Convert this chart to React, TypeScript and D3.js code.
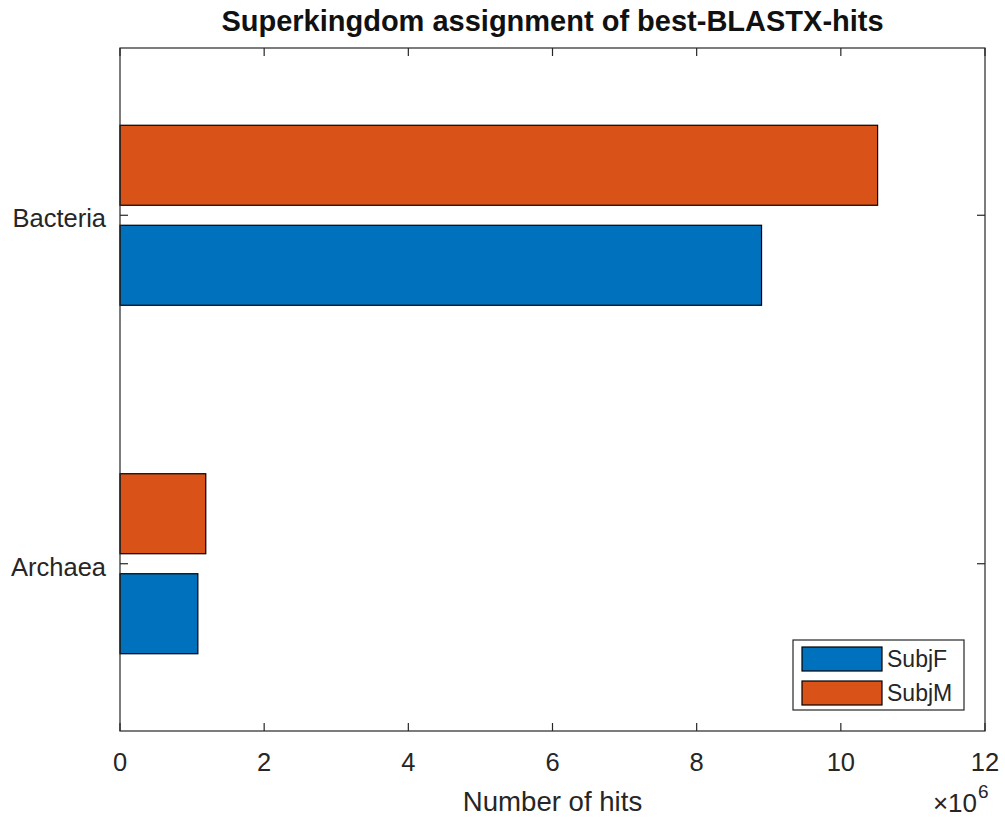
import React from 'react';
import * as d3 from 'd3';

const categories = ['Bacteria', 'Archaea'];
const seriesNames = ['SubjF', 'SubjM'];
const subjF = [8.9e6, 1.08e6];
const subjM = [10.51e6, 1.19e6];
const xTicks = [0, 2e6, 4e6, 6e6, 8e6, 10e6, 12e6];

const colors: Record<string, string> = { SubjF: '#0072BD', SubjM: '#D95319' };
const valuesBySeries: Record<string, number[]> = { SubjF: subjF, SubjM: subjM };

const W = 1005;
const H = 819;
const margin = { top: 48, right: 20, bottom: 88, left: 120 };
const font = '"Liberation Sans", Arial, Helvetica, sans-serif';
const ink = '#262626';

export default function App() {
  const x = d3.scaleLinear().domain([0, 12e6]).range([margin.left, W - margin.right]);
  const y = d3.scalePoint<string>().domain(categories).range([margin.top, H - margin.bottom]).padding(0.48);
  // SubjM drawn above SubjF within each group
  const sub = d3.scaleBand<string>().domain(['SubjM', 'SubjF']).range([-90, 90]).paddingInner(0.2);

  const left = margin.left;
  const right = W - margin.right;
  const top = margin.top;
  const bottom = H - margin.bottom;
  const tick = 8;

  const legendX = 793;
  const legendY = 640;

  return (
    <svg width={W} height={H} style={{ position: 'absolute', left: 0, top: 0, background: '#fff' }} fontFamily={font}>
      <rect x={0} y={0} width={W} height={H} fill="#fff" />

      {/* bars */}
      {categories.map((c, i) =>
        seriesNames.map((s) => (
          <rect
            key={c + s}
            x={x(0)}
            y={(y(c) as number) + (sub(s) as number)}
            width={x(valuesBySeries[s][i]) - x(0)}
            height={sub.bandwidth()}
            fill={colors[s]}
            stroke="#000"
            strokeWidth={1.2}
          />
        ))
      )}

      {/* axes box */}
      <rect x={left} y={top} width={right - left} height={bottom - top} fill="none" stroke={ink} strokeWidth={1.2} />

      {/* x ticks, bottom and mirrored top */}
      {xTicks.map((t) => (
        <g key={t}>
          <line x1={x(t)} x2={x(t)} y1={bottom} y2={bottom - tick} stroke={ink} strokeWidth={1.2} />
          <line x1={x(t)} x2={x(t)} y1={top} y2={top + tick} stroke={ink} strokeWidth={1.2} />
          <text x={x(t)} y={771} textAnchor="middle" fontSize={25.5} fill={ink}>
            {t / 1e6}
          </text>
        </g>
      ))}

      {/* y ticks, left and mirrored right */}
      {categories.map((c) => (
        <g key={c}>
          <line x1={left} x2={left + tick} y1={y(c)} y2={y(c)} stroke={ink} strokeWidth={1.2} />
          <line x1={right} x2={right - tick} y1={y(c)} y2={y(c)} stroke={ink} strokeWidth={1.2} />
          <text x={left - 14} y={(y(c) as number) + 3} textAnchor="end" dominantBaseline="central" fontSize={25.5} fill={ink}>
            {c}
          </text>
        </g>
      ))}

      {/* exponent */}
      <text x={977} y={812} textAnchor="end" fontSize={26} fill={ink}>
        ×10
      </text>
      <text x={978} y={798} textAnchor="start" fontSize={19} fill={ink}>
        6
      </text>

      {/* x label */}
      <text x={(left + right) / 2} y={811} textAnchor="middle" fontSize={27.6} fill={ink}>
        Number of hits
      </text>

      {/* title */}
      <text x={(left + right) / 2} y={31} textAnchor="middle" fontSize={29} fontWeight="bold" fill="#111">
        Superkingdom assignment of best-BLASTX-hits
      </text>

      {/* legend */}
      <rect x={legendX} y={legendY} width={171} height={70} fill="#fff" stroke={ink} strokeWidth={1.2} />
      {seriesNames.map((s, i) => (
        <g key={s}>
          <rect x={legendX + 9} y={legendY + 7 + i * 34} width={80} height={24} fill={colors[s]} stroke="#000" strokeWidth={1.2} />
          <text x={legendX + 94} y={legendY + 19 + i * 34} dominantBaseline="central" fontSize={23} fill={ink}>
            {s}
          </text>
        </g>
      ))}
    </svg>
  );
}
